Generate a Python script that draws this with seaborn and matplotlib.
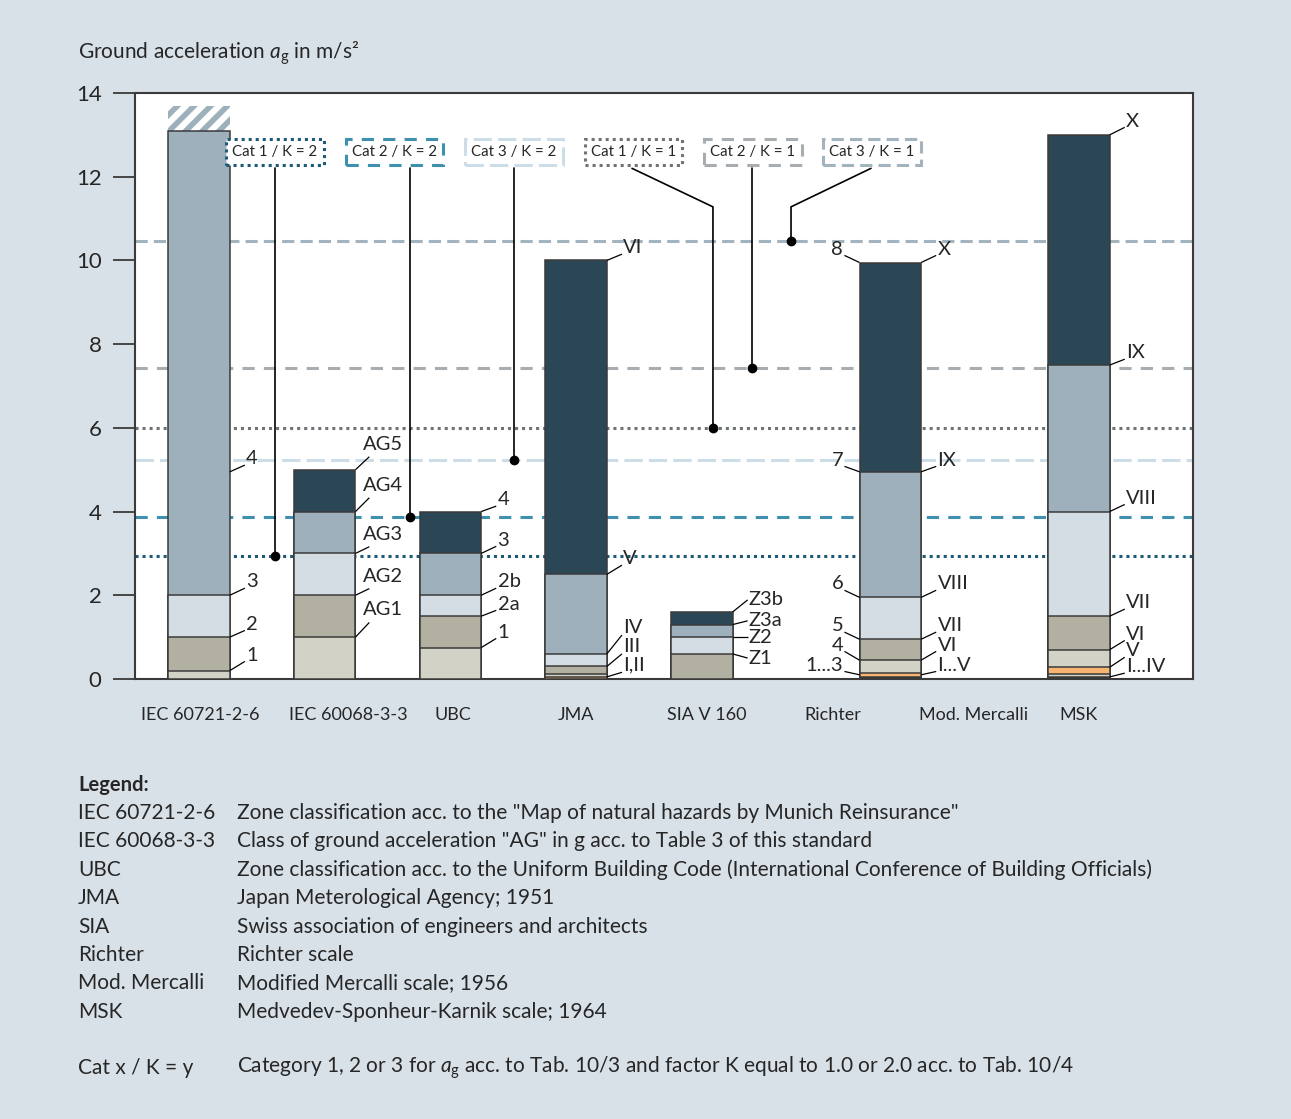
import numpy as np
import pandas as pd
import seaborn as sns
import matplotlib.pyplot as plt

# bar positions on the x axis (Richter and Mod. Mercalli share one bar)
bar_pos = [0, 1, 2, 3, 4, 5.5, 7]

# segment tops in m/s2, lowest segment first
iec60721_tops = [0.2, 1.0, 2.0, 13.1]
iec60721_hatch_top = 13.7
iec60068_tops = [1.0, 2.0, 3.0, 4.0, 5.0]
ubc_tops = [0.75, 1.5, 2.0, 3.0, 4.0]
jma_tops = [0.05, 0.12, 0.3, 0.6, 2.5, 10.0]
sia_tops = [0.6, 1.0, 1.3, 1.6]
richter_tops = [0.04, 0.15, 0.45, 0.95, 1.95, 4.95, 9.95]
msk_tops = [0.05, 0.12, 0.28, 0.7, 1.5, 4.0, 7.5, 13.0]

# segment labels: text, value at the bar, height of the text
iec60721_labels = ["1", "2", "3", "4"]
iec60721_lab_at = [0.2, 1.0, 2.0, 4.95]
iec60721_lab_y = [0.57, 1.31, 2.32, 5.26]
iec60068_labels = ["AG1", "AG2", "AG3", "AG4", "AG5"]
iec60068_lab_at = [1.0, 2.0, 3.0, 4.0, 5.0]
iec60068_lab_y = [1.65, 2.46, 3.46, 4.63, 5.61]
ubc_labels = ["1", "2a", "2b", "3", "4"]
ubc_lab_at = [0.75, 1.5, 2.0, 3.0, 4.0]
ubc_lab_y = [1.12, 1.79, 2.32, 3.32, 4.28]
jma_labels = ["I,II", "III", "IV", "V", "VI"]
jma_lab_at = [0.05, 0.3, 0.6, 2.5, 10.0]
jma_lab_y = [0.33, 0.77, 1.22, 2.89, 10.32]
sia_labels = ["Z1", "Z2", "Z3a", "Z3b"]
sia_lab_at = [0.6, 1.0, 1.3, 1.6]
sia_lab_y = [0.5, 1.0, 1.39, 1.89]
richter_labels = ["1...3", "4", "5", "6", "7", "8"]
mercalli_labels = ["I...V", "VI", "VII", "VIII", "IX", "X"]
richter_lab_at = [0.1, 0.45, 0.95, 1.95, 4.95, 9.95]
richter_lab_y = [0.33, 0.81, 1.27, 2.27, 5.23, 10.27]
msk_labels = ["I...IV", "V", "VI", "VII", "VIII", "IX", "X"]
msk_lab_at = [0.05, 0.28, 0.7, 1.5, 4.0, 7.5, 13.0]
msk_lab_y = [0.29, 0.67, 1.07, 1.82, 4.32, 7.79, 13.33]

# category / K reference levels
cat_names = ["Cat 1 / K = 2", "Cat 2 / K = 2", "Cat 3 / K = 2",
             "Cat 1 / K = 1", "Cat 2 / K = 1", "Cat 3 / K = 1"]
cat_values = [2.94, 3.87, 5.23, 6.0, 7.43, 10.46]

xtick_names = ["IEC 60721-2-6", "IEC 60068-3-3", "UBC", "JMA", "SIA V 160",
               "Richter", "Mod. Mercalli", "MSK"]

legend_keys = ["IEC 60721-2-6", "IEC 60068-3-3", "UBC", "JMA", "SIA", "Richter",
               "Mod. Mercalli", "MSK"]
legend_texts = [
    'Zone classification acc. to the "Map of natural hazards by Munich Reinsurance"',
    'Class of ground acceleration "AG" in g acc. to Table 3 of this standard',
    "Zone classification acc. to the Uniform Building Code (International Conference of Building Officials)",
    "Japan Meterological Agency; 1951",
    "Swiss association of engineers and architects",
    "Richter scale",
    "Modified Mercalli scale; 1956",
    "Medvedev-Sponheur-Karnik scale; 1964",
]

# ---- style
DARK = "#2b4654"
BLUEGRAY = "#9db0bb"
LIGHT = "#d5dde4"
KHAKI = "#b2b1a1"
BEIGE = "#d2d3c6"
ORANGE = "#f8b572"
BLACKISH = "#333333"
BG = "#d9e1e8"
EDGE = "#3a3a3a"

seg_colors = {
    "iec60721": [BEIGE, KHAKI, LIGHT, BLUEGRAY],
    "iec60068": [BEIGE, KHAKI, LIGHT, BLUEGRAY, DARK],
    "ubc": [BEIGE, KHAKI, LIGHT, BLUEGRAY, DARK],
    "jma": [ORANGE, BEIGE, KHAKI, LIGHT, BLUEGRAY, DARK],
    "sia": [KHAKI, LIGHT, BLUEGRAY, DARK],
    "richter": [BLACKISH, ORANGE, BEIGE, KHAKI, LIGHT, BLUEGRAY, DARK],
    "msk": [BLACKISH, BEIGE, ORANGE, BEIGE, KHAKI, LIGHT, BLUEGRAY, DARK],
}
cat_colors = ["#1c5a77", "#3f8fae", "#cddde8", "#6e7378", "#a7adb1", "#a3b4bf"]
cat_styles = [(0, (1, 1.3)), (0, (4, 3)), (0, (6, 2)), (0, (1, 1.3)), (0, (4, 3)), (0, (4, 2))]

sns.set_style("ticks")
plt.rcParams["font.family"] = ["Lato", "DejaVu Sans"]
plt.rcParams["mathtext.fontset"] = "custom"
plt.rcParams["mathtext.it"] = "Lato:italic"
plt.rcParams["mathtext.rm"] = "Lato"
plt.rcParams["hatch.color"] = BLUEGRAY
plt.rcParams["hatch.linewidth"] = 4.0

fig = plt.figure(figsize=(12.91, 11.19), dpi=100, facecolor=BG)
ax = fig.add_axes([135 / 1291, 1 - 679 / 1119, (1193 - 135) / 1291, (679 - 93) / 1119])
ax.set_facecolor("white")

W = 0.49


def draw_bar(x, tops, colors):
    # draw tallest first, smaller ones on top -> stacked look
    df = pd.DataFrame({"x": [x] * len(tops), "top": tops, "c": colors})
    for _, r in df.iloc[::-1].iterrows():
        sns.barplot(x=[r["x"]], y=[r["top"]], color=r["c"], native_scale=True, orient="x",
                    width=W, saturation=1, errorbar=None, edgecolor=EDGE, linewidth=1.1,
                    ax=ax, zorder=3)


# hatched top of the first bar
sns.barplot(x=[bar_pos[0]], y=[iec60721_hatch_top], color="white", native_scale=True,
            orient="x", width=W, saturation=1, errorbar=None, edgecolor=BLUEGRAY,
            linewidth=0, hatch="//", ax=ax, zorder=3)
draw_bar(bar_pos[0], iec60721_tops, seg_colors["iec60721"])
draw_bar(bar_pos[1], iec60068_tops, seg_colors["iec60068"])
draw_bar(bar_pos[2], ubc_tops, seg_colors["ubc"])
draw_bar(bar_pos[3], jma_tops, seg_colors["jma"])
draw_bar(bar_pos[4], sia_tops, seg_colors["sia"])
draw_bar(bar_pos[5], richter_tops, seg_colors["richter"])
draw_bar(bar_pos[6], msk_tops, seg_colors["msk"])

# reference levels
for v, c, ls in zip(cat_values, cat_colors, cat_styles):
    ax.axhline(v, color=c, ls=ls, lw=2.2, zorder=1)


def seg_labels(x, texts, at, ty, side="right", drop=0.15, dx=0.12, gap=0.01):
    edge = x + W / 2 if side == "right" else x - W / 2
    sgn = 1 if side == "right" else -1
    for t, a, y in zip(texts, at, ty):
        ax.plot([edge, edge + sgn * dx], [a, y - drop], color="black", lw=0.9, zorder=4,
                solid_capstyle="butt")
        ax.text(edge + sgn * (dx + gap), y, t, ha="left" if sgn > 0 else "right",
                va="center", fontsize=14.5, zorder=5)


seg_labels(bar_pos[0], iec60721_labels, iec60721_lab_at, iec60721_lab_y)
seg_labels(bar_pos[1], iec60068_labels, iec60068_lab_at, iec60068_lab_y, drop=0.3, dx=0.11, gap=-0.05)
seg_labels(bar_pos[2], ubc_labels, ubc_lab_at, ubc_lab_y)
seg_labels(bar_pos[3], jma_labels, jma_lab_at, jma_lab_y, drop=0.17)
seg_labels(bar_pos[4], sia_labels, sia_lab_at, sia_lab_y, drop=0.0)
seg_labels(bar_pos[5], richter_labels, richter_lab_at, richter_lab_y, side="left")
seg_labels(bar_pos[5], mercalli_labels, richter_lab_at, richter_lab_y)
seg_labels(bar_pos[6], msk_labels, msk_lab_at, msk_lab_y)

# category boxes with leader lines
box_x = [0.605, 1.555, 2.506, 3.457, 4.407, 5.354]
box_y = 12.59
lead_x = [[0.605], [1.679], [2.506], [3.445, 4.089], [4.4], [5.346, 4.71]]
for name, v, c, ls, bx, lx in zip(cat_names, cat_values, cat_colors, cat_styles, box_x, lead_x):
    ax.text(bx, box_y, name, ha="center", va="center", fontsize=10.8, zorder=6,
            bbox=dict(boxstyle="square,pad=0.42", fc="white", ec=c, ls=ls, lw=2.2))
    xs = lx + [lx[-1]]
    ys = [12.2] + ([11.28] if len(lx) > 1 else []) + [v]
    ax.plot(xs, ys, color="black", lw=1.2, zorder=5)
    ax.plot(xs[-1], v, "o", color="black", ms=6, zorder=5)

ax.set_xlim(-0.509, 7.908)
ax.set_ylim(0, 14)
ax.set_yticks(range(0, 15, 2))
ax.set_xticks([0.008, 1.19, 2.02, 3.0, 4.04, 5.04, 6.16, 7.0], xtick_names)
ax.tick_params(axis="y", length=16, width=1.3, pad=8, labelsize=16, color=EDGE)
ax.tick_params(axis="x", length=0, pad=20, labelsize=13)
ax.set_xlabel("")
ax.set_ylabel("")
for s in ax.spines.values():
    s.set_color(EDGE)
    s.set_linewidth(1.5)

fig.text(78 / 1291, 1 - 53 / 1119,
         r"Ground acceleration $\mathit{a}_\mathregular{g}$ in m/s²",
         ha="left", va="center", fontsize=15)

fig.text(78 / 1291, 1 - 785 / 1119, "Legend:", ha="left", va="center",
         fontsize=14.5, fontweight="bold")
for i, (k, t) in enumerate(zip(legend_keys, legend_texts)):
    y = 1 - (813 + i * 28.4) / 1119
    fig.text(78 / 1291, y, k, ha="left", va="center", fontsize=15)
    fig.text(237 / 1291, y, t, ha="left", va="center", fontsize=15)
fig.text(78 / 1291, 1 - 1068 / 1119, "Cat x / K = y", ha="left", va="center", fontsize=15)
fig.text(237 / 1291, 1 - 1068 / 1119,
         r"Category 1, 2 or 3 for $\mathit{a}_\mathregular{g}$ acc. to Tab. 10/3 and factor K equal to 1.0 or 2.0 acc. to Tab. 10/4",
         ha="left", va="center", fontsize=15)

fig.savefig("out.png", dpi=100, facecolor=BG)
